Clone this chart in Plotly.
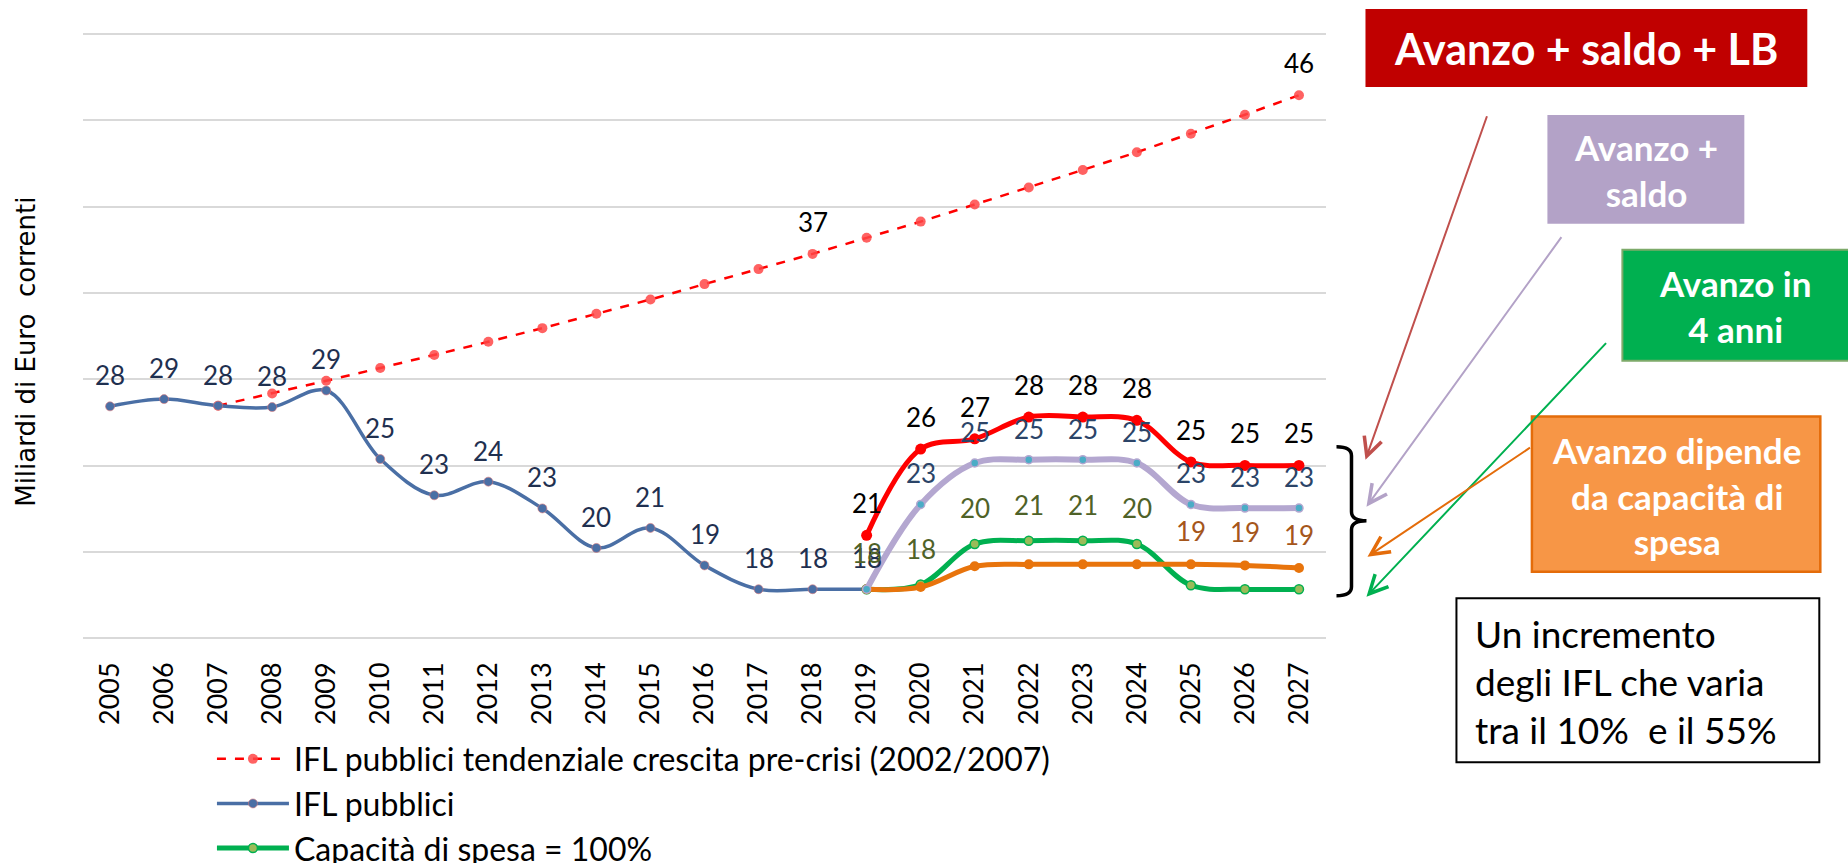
import plotly.graph_objects as go

# ---------------- data ----------------
years = list(range(2005, 2028))
years_hist = list(range(2005, 2020))
years_trend = list(range(2007, 2028))
years_proj = list(range(2019, 2028))
year_ticklabels = [str(y) for y in years]

ifl_pubblici = [28.43, 28.85, 28.47, 28.39, 29.35, 25.38, 23.28, 24.07, 22.52,
                20.23, 21.39, 19.22, 17.84, 17.84, 17.84]
ifl_pubblici_lab = ["28", "29", "28", "28", "29", "25", "23", "24", "23",
                    "20", "21", "19", "18", "18", "18"]

trend = [28.47, 29.18, 29.91, 30.65, 31.40, 32.17, 32.96, 33.79, 34.62, 35.51,
         36.38, 37.26, 38.19, 39.13, 40.12, 41.10, 42.12, 43.15, 44.22, 45.32, 46.45]
trend_lab = ["", "", "", "", "", "", "", "", "", "", "", "37", "", "", "", "", "",
             "", "", "", "46"]

cap100 = [17.84, 18.11, 20.46, 20.65, 20.65, 20.46, 18.07, 17.84, 17.84]
cap100_lab = ["18", "18", "20", "21", "21", "20", "", "", ""]

avanzo_cap = [17.84, 17.97, 19.17, 19.28, 19.28, 19.28, 19.28, 19.22, 19.07]
avanzo_cap_lab = ["", "", "", "", "", "", "19", "19", "19"]

avanzo_saldo = [17.84, 22.75, 25.15, 25.34, 25.34, 25.15, 22.75, 22.54, 22.54]
avanzo_saldo_lab = ["", "23", "25", "25", "25", "25", "23", "23", "23"]

avanzo_saldo_lb = [20.96, 25.96, 26.55, 27.81, 27.81, 27.62, 25.21, 25.01, 25.01]
avanzo_saldo_lb_lab = ["21", "26", "27", "28", "28", "28", "25", "25", "25"]

FONT = "Lato"

# ---------------- geometry helpers (pixel -> paper) ----------------
W, H = 1848, 863
L, R, T, B = 83, 1326.5, 8.0, 640.4


def px(x):
    return (x - L) / (R - L)


def py(y):
    return (B - y) / (B - T)


fig = go.Figure()

fig.add_trace(go.Scatter(
    x=years_trend, y=trend, mode="lines+markers",
    name="IFL pubblici tendenziale crescita pre-crisi (2002/2007)",
    line=dict(color="#FF0000", width=2.5, dash="dash"),
    marker=dict(color="rgba(255,70,70,0.85)", size=10)))

fig.add_trace(go.Scatter(
    x=years_hist, y=ifl_pubblici, mode="lines+markers", name="IFL pubblici",
    line=dict(color="#4A6FA5", width=3.5, shape="spline"),
    marker=dict(color="#4A6FA5", size=9, line=dict(color="rgba(220,120,120,0.6)", width=1))))

fig.add_trace(go.Scatter(
    x=years_proj, y=cap100, mode="lines+markers", name="Capacità di spesa = 100%",
    line=dict(color="#00B050", width=5, shape="spline"),
    marker=dict(color="#9BBB59", size=9, line=dict(color="#00B050", width=1.5))))

fig.add_trace(go.Scatter(
    x=years_proj, y=avanzo_cap, mode="lines+markers", name="Avanzo dipende da capacità di spesa",
    line=dict(color="#E8740C", width=5, shape="spline"), showlegend=False,
    marker=dict(color="#E8740C", size=10)))

fig.add_trace(go.Scatter(
    x=years_proj, y=avanzo_saldo, mode="lines+markers", name="Avanzo + saldo",
    line=dict(color="#B4A7D0", width=6, shape="spline"), showlegend=False,
    marker=dict(color="#4BACC6", size=8, line=dict(color="#B4A7D0", width=1.5))))

fig.add_trace(go.Scatter(
    x=years_proj, y=avanzo_saldo_lb, mode="lines+markers", name="Avanzo + saldo + LB",
    line=dict(color="#FF0000", width=5, shape="spline"), showlegend=False,
    marker=dict(color="#FF0000", size=11)))

# ---------------- data labels ----------------
annotations = []


def add_labels(xs, ys, labs, color, shift):
    for xv, yv, t in zip(xs, ys, labs):
        if t:
            annotations.append(dict(x=xv, y=yv, xref="x", yref="y", text=t,
                                    showarrow=False, yshift=shift,
                                    font=dict(family=FONT, size=26, color=color)))


add_labels(years_trend, trend, trend_lab, "#000000", 32)
add_labels(years_hist, ifl_pubblici, ifl_pubblici_lab, "#1F3050", 31)
add_labels(years_proj, cap100, cap100_lab, "#4F6228", 36)
add_labels(years_proj, avanzo_cap, avanzo_cap_lab, "#A5561B", 33)
add_labels(years_proj, avanzo_saldo, avanzo_saldo_lab, "#2B4468", 31)
add_labels(years_proj, avanzo_saldo_lb, avanzo_saldo_lb_lab, "#000000", 32)

# ---------------- y title ----------------
annotations.append(dict(x=px(26), y=py(352), xref="paper", yref="paper",
                        xanchor="center", yanchor="middle",
                        text="Miliardi di Euro  correnti", textangle=-90,
                        showarrow=False,
                        font=dict(family="DejaVu Sans", size=26, color="#000000")))

# ---------------- boxes ----------------
shapes = []


def box(x0, y0, x1, y1, fill, line_color, lw):
    shapes.append(dict(type="rect", xref="paper", yref="paper",
                       x0=px(x0), x1=px(x1), y0=py(y1), y1=py(y0),
                       fillcolor=fill, line=dict(color=line_color, width=lw), layer="above"))


box(1366, 9, 1808, 87, "#C00000", "#C00000", 0)
box(1548, 115, 1745, 224, "#B3A2C7", "#B3A2C7", 0)
box(1623, 250, 1852, 361, "#00B050", "#7DAA6A", 2)
box(1532.5, 416.7, 1821, 572, "#F79646", "#E46C0A", 2.5)
box(1457, 598.7, 1820, 762.7, "#FFFFFF", "#000000", 2)


def box_text(cx, cy, text, size, color="#FFFFFF", anchor="center", align="center"):
    annotations.append(dict(x=px(cx), y=py(cy), xref="paper", yref="paper", text=text,
                            showarrow=False, xanchor=anchor, yanchor="middle", align=align,
                            font=dict(family=FONT, size=size, color=color)))


box_text(1587, 49, "<b>Avanzo + saldo + LB</b>", 43)
box_text(1646.5, 170, "<b>Avanzo +<br>saldo</b>", 35)
box_text(1736, 306, "<b>Avanzo in<br>4 anni</b>", 35)
box_text(1677, 496, "<b>Avanzo dipende<br>da capacità di<br>spesa</b>", 35)
box_text(1474, 682, "Un incremento<br>degli IFL che varia<br>tra il 10%  e il 55%", 37,
         color="#000000", anchor="left", align="left")

# ---------------- bracket ----------------
bx0, bxv, bxt = 1337, 1352, 1367
by0, bym, by1 = 447, 521, 596
path = (f"M {px(bx0)},{py(by0)} Q {px(bxv)},{py(by0)} {px(bxv)},{py(by0 + 9)} "
        f"L {px(bxv)},{py(bym - 9)} Q {px(bxv)},{py(bym)} {px(bxt)},{py(bym)} "
        f"Q {px(bxv)},{py(bym)} {px(bxv)},{py(bym + 9)} "
        f"L {px(bxv)},{py(by1 - 9)} Q {px(bxv)},{py(by1)} {px(bx0)},{py(by1)}")
shapes.append(dict(type="path", xref="paper", yref="paper", path=path,
                   line=dict(color="#000000", width=3.5), layer="above"))

# ---------------- arrows ----------------


def arrow(tail, tip, color):
    annotations.append(dict(x=px(tip[0]), y=py(tip[1]), xref="paper", yref="paper",
                            ax=tail[0] - tip[0], ay=tail[1] - tip[1], axref="pixel", ayref="pixel",
                            text="", showarrow=True, arrowhead=5, arrowsize=1.8,
                            arrowwidth=2, arrowcolor=color))


arrow((1488, 115), (1366, 460), "#C0504D")
arrow((1563, 236), (1367, 507), "#B3A2C7")
arrow((1608, 342), (1367, 597), "#00B050")
arrow((1532, 447), (1368, 557), "#E46C0A")

fig.update_layout(
    width=W, height=H,
    margin=dict(l=L, r=W - R, t=T, b=H - B, autoexpand=False),
    paper_bgcolor="white", plot_bgcolor="white",
    font=dict(family=FONT, color="#000000"),
    showlegend=True,
    legend=dict(x=px(212), y=py(732), xanchor="left", yanchor="top",
                font=dict(family=FONT, size=32, color="#000000"),
                bgcolor="rgba(0,0,0,0)", itemwidth=72, tracegroupgap=0),
    annotations=annotations,
    shapes=shapes,
)

fig.update_xaxes(type="linear", range=[2004.5, 2027.5], tickmode="array",
                 tickvals=years, ticktext=year_ticklabels,
                 tickangle=-90, tickfont=dict(family=FONT, size=27, color="#000000"),
                 showgrid=False, zeroline=False, showline=False, ticks="",
                 ticklabelstandoff=16, fixedrange=True)
fig.update_yaxes(range=[14.9, 51.5], tickmode="array", tickvals=[15, 20, 25, 30, 35, 40, 45, 50],
                 showgrid=True, gridcolor="#D9D9D9",
                 gridwidth=2, zeroline=False, showline=False, showticklabels=False,
                 ticks="", fixedrange=True)

fig.write_html("out.html", config={"displayModeBar": False},
               post_script="document.body.style.margin='0';document.body.style.overflow='hidden';")
